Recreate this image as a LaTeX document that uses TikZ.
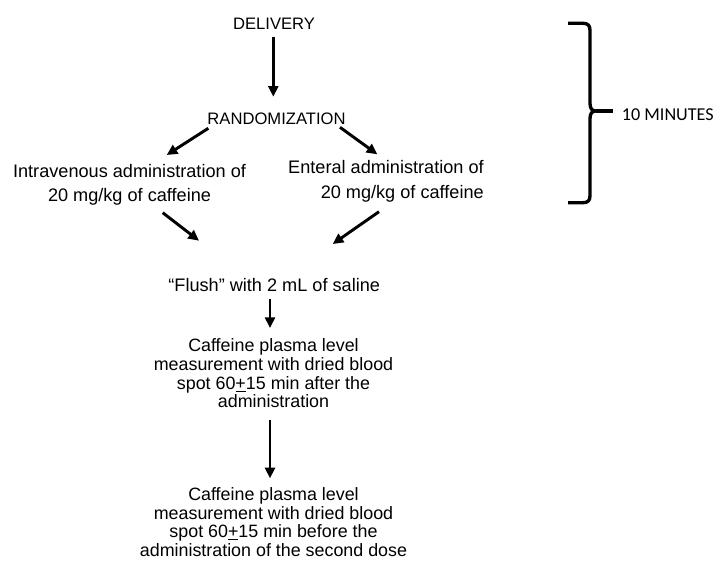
\documentclass[tikz,border=0pt]{standalone}
\usepackage{fontspec}
\setmainfont{Liberation Sans}
\newfontfamily\calfont{Carlito}
\usetikzlibrary{arrows.meta,calc}
\tikzset{
  lbl/.style={inner sep=0pt, anchor=base, font=\fontsize{13.6pt}{18.4pt}\selectfont},
  caps/.style={inner sep=0pt, anchor=base, font=\fontsize{12.45pt}{15pt}\selectfont},
  meas/.style={inner sep=0pt, anchor=base, align=center, font=\fontsize{13.4pt}{14pt}\selectfont},
  arr/.style={line width=2.2pt, -{Triangle[length=8pt,width=7.5pt]}},
  bracestyle/.style={line width=2.5pt, line join=round}
}
\begin{document}
\begin{tikzpicture}[x=0.75pt,y=-0.75pt]
\useasboundingbox (0,0) rectangle (714,564);
\node[caps] (deliv) at (274,29.3) {DELIVERY};
\node[caps] (rand) at (276.5,124) {RANDOMIZATION};
\node[lbl, align=center] (iv) at (129.5,201.7) {Intravenous administration of\\20 mg/kg of caffeine};
\node[lbl, align=right, anchor=base east] (ent) at (484,198.3) {Enteral administration of\\20 mg/kg of caffeine};
\node[lbl] (flush) at (274.2,291.7) {“Flush” with 2 mL of saline};
\node[meas] (m1) at (273.5,407.7) {Caffeine plasma level\\measurement with dried blood\\spot 60\underline{+}15 min after the\\administration};
\node[meas] (m2) at (273.5,556.5) {Caffeine plasma level\\measurement with dried blood\\spot 60\underline{+}15 min before the\\administration of the second dose};
\node[inner sep=0pt, anchor=base west, font=\calfont\fontsize{13.6pt}{16pt}\selectfont] (mins) at (621.7,120) {10 MINUTES};

\draw[arr] ($(deliv.base)+(-0.7,7.4)$) -- ($(rand.base)+(-3.2,-27.3)$);
\draw[arr] ($(rand.base)+(-68.2,4.3)$) -- ($(iv.base)+(37.2,-46.7)$);
\draw[arr] ($(rand.base)+(63.5,3.3)$) -- ($(ent.base east)+(-106.7,-44)$);
\draw[arr] ($(iv.base)+(33.2,11)$) -- ($(flush.base)+(-75.2,-51)$);
\draw[arr] ($(ent.base east)+(-105,13.4)$) -- ($(flush.base)+(58.5,-47.7)$);
\draw[arr] ($(flush.base)+(-4.2,7.3)$) -- ($(m1.base)+(-3.5,-79.7)$);
\draw[arr] ($(m1.base)+(-3.5,12.3)$) -- ($(m2.base)+(-3.5,-78.2)$);

\coordinate (bt) at (568,23.3);
\coordinate (bm) at (596,111);
\coordinate (bb) at (568,202.7);
\draw[bracestyle] (bt) -- (583,23.3) .. controls (588,23.3) and (590,25.5) .. (590,30.5)
  -- (590,103) .. controls (590,108) and (591.5,111) .. (bm)
  .. controls (591.5,111) and (590,114) .. (590,119)
  -- (590,195.5) .. controls (590,200.5) and (588,202.7) .. (583,202.7) -- (bb);
\draw[bracestyle] (bm) -- ($(mins.base west)+(-8.7,-9)$);
\end{tikzpicture}
\end{document}
